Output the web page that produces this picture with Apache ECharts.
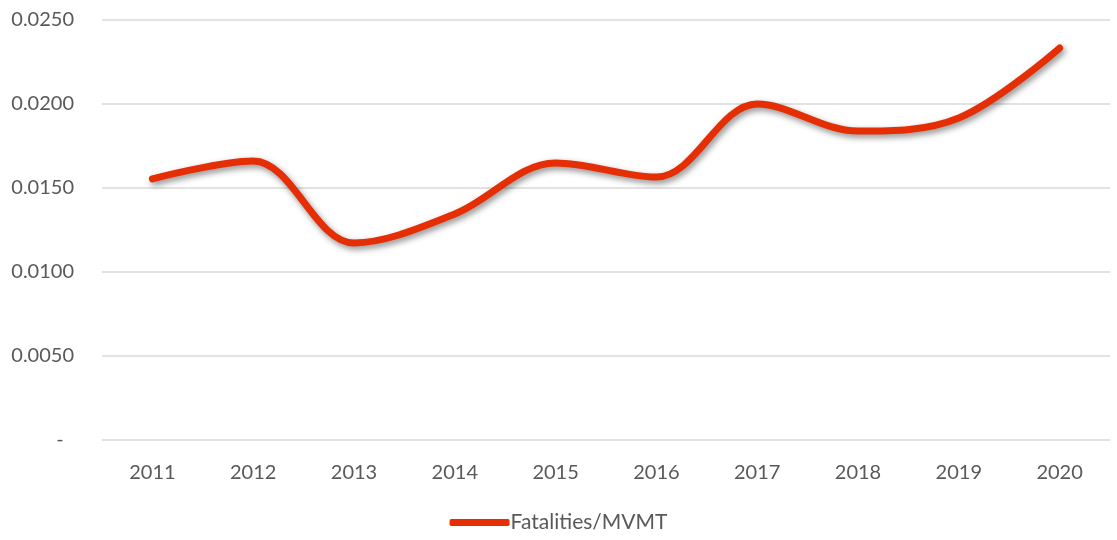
<!DOCTYPE html>
<html>
<head>
<meta charset="utf-8">
<script src="https://cdn.jsdelivr.net/npm/echarts@6/dist/echarts.min.js"></script>
<style>
    html, body { margin: 0; padding: 0; background: #fff; }
    #chart { width: 1117px; height: 540px; }
</style>
</head>
<body>
<div id="chart"></div>
<script>
var years = ['2011', '2012', '2013', '2014', '2015', '2016', '2017', '2018', '2019', '2020'];
var fatalities = [0.01554, 0.01661, 0.01173, 0.01345, 0.01649, 0.01565, 0.02000, 0.01839, 0.01917, 0.02333];
var seriesName = 'Fatalities/MVMT';

var myChart = echarts.init(document.getElementById('chart'));
var option = {
    color: ['#e52e04'],
    textStyle: {
        fontFamily: 'Lato'
    },
    grid: {
        left: 102,
        right: 7,
        top: 20,
        bottom: 100
    },
    legend: {
        bottom: 2,
        left: 'center',
        icon: 'roundRect',
        itemWidth: 60,
        itemHeight: 7,
        itemGap: 10,
        textStyle: {
            color: '#595959',
            fontSize: 21,
            padding: [0, 0, 0, -4]
        },
        data: [seriesName]
    },
    xAxis: [{
        type: 'category',
        data: years,
        boundaryGap: true,
        axisLine: {
            show: false
        },
        axisTick: {
            show: false
        },
        axisLabel: {
            color: '#595959',
            fontSize: 20,
            margin: 23
        }
    }],
    yAxis: [{
        type: 'value',
        min: 0,
        max: 0.025,
        interval: 0.005,
        axisLine: {
            show: false
        },
        axisTick: {
            show: false
        },
        axisLabel: {
            color: '#595959',
            fontSize: 20,
            margin: 28,
            formatter: function (v) {
                if (v === 0) {
                    return '-  ';
                }
                return v.toFixed(4);
            }
        },
        splitLine: {
            lineStyle: {
                color: '#d9d9d9',
                width: 1.5
            }
        }
    }],
    series: [{
        name: seriesName,
        type: 'line',
        smooth: 0.35,
        symbol: 'none',
        data: fatalities,
        lineStyle: {
            width: 7,
            cap: 'round',
            join: 'round',
            shadowColor: 'rgba(0,0,0,0.45)',
            shadowBlur: 6,
            shadowOffsetX: 2,
            shadowOffsetY: 3
        }
    }]
};
myChart.setOption(option);
</script>
</body>
</html>
